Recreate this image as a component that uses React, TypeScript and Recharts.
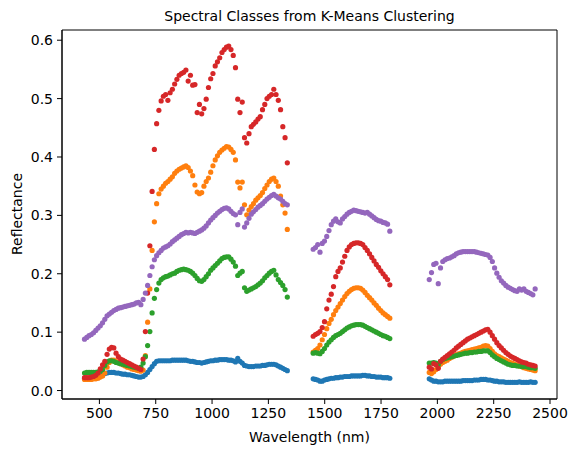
import { ScatterChart, Scatter, XAxis, YAxis, ReferenceArea } from "recharts";

const FONT = '"DejaVu Sans", Verdana, sans-serif';

// Band centres (nm); water-absorption windows are dropped.
const bandsVnir = [
  434, 444, 454, 464, 474, 484, 494, 504, 514, 524,
  534, 544, 554, 564, 574, 584, 594, 604, 614, 624,
  634, 644, 654, 664, 674, 684, 694, 704, 714, 724,
  734, 744, 754, 764, 774, 784, 794, 804, 814, 824,
  834, 844, 854, 864, 874, 884, 894, 904, 914, 924,
  934, 944, 954, 964, 974, 984, 994, 1004, 1014, 1024,
  1034, 1044, 1054, 1064, 1074, 1084, 1094, 1104, 1114, 1124,
  1134, 1144, 1154, 1164, 1174, 1184, 1194, 1204, 1214, 1224,
  1234, 1244, 1254, 1264, 1274, 1284, 1294, 1304, 1314, 1324,
  1334,
];
const bandsSwir1 = [
  1449, 1459, 1469, 1479, 1489, 1499, 1509, 1519, 1529, 1539,
  1549, 1559, 1569, 1579, 1589, 1599, 1609, 1619, 1629, 1639,
  1649, 1659, 1669, 1679, 1689, 1699, 1709, 1719, 1729, 1739,
  1749, 1759, 1769, 1779, 1789,
];
const bandsSwir2 = [
  1964, 1974, 1984, 1994, 2004, 2014, 2024, 2034, 2044, 2054,
  2064, 2074, 2084, 2094, 2104, 2114, 2124, 2134, 2144, 2154,
  2164, 2174, 2184, 2194, 2204, 2214, 2224, 2234, 2244, 2254,
  2264, 2274, 2284, 2294, 2304, 2314, 2324, 2334, 2344, 2354,
  2364, 2374, 2384, 2394, 2404, 2414, 2424, 2434,
];
const wavelengths = [...bandsVnir, ...bandsSwir1, ...bandsSwir2];

// Cluster centroid spectra, one value per band above.
const class0 = [
  0.021, 0.021, 0.021, 0.021, 0.021, 0.021, 0.022, 0.024, 0.026, 0.029,
  0.030, 0.031, 0.031, 0.031, 0.030, 0.030, 0.029, 0.028, 0.028, 0.027,
  0.027, 0.026, 0.025, 0.024, 0.023, 0.023, 0.024, 0.027, 0.031, 0.036,
  0.041, 0.046, 0.050, 0.051, 0.051, 0.051, 0.051, 0.051, 0.051, 0.052,
  0.052, 0.052, 0.052, 0.052, 0.052, 0.052, 0.051, 0.050, 0.050, 0.049,
  0.048, 0.048, 0.047, 0.048, 0.049, 0.050, 0.051, 0.051, 0.052, 0.052,
  0.053, 0.053, 0.053, 0.053, 0.052, 0.052, 0.051, 0.049, 0.055, 0.050,
  0.047, 0.043, 0.042, 0.041, 0.041, 0.041, 0.042, 0.042, 0.042, 0.043,
  0.043, 0.044, 0.045, 0.045, 0.045, 0.044, 0.042, 0.040, 0.038, 0.036,
  0.034,
  0.020, 0.019, 0.018, 0.016, 0.016, 0.018, 0.019, 0.020, 0.021, 0.021,
  0.022, 0.022, 0.023, 0.023, 0.024, 0.024, 0.024, 0.025, 0.025, 0.025,
  0.025, 0.025, 0.026, 0.026, 0.025, 0.025, 0.024, 0.024, 0.023, 0.023,
  0.023, 0.022, 0.022, 0.022, 0.021,
  0.020, 0.018, 0.016, 0.016, 0.015, 0.015, 0.015, 0.016, 0.016, 0.016,
  0.016, 0.016, 0.016, 0.016, 0.016, 0.017, 0.017, 0.017, 0.017, 0.017,
  0.018, 0.018, 0.018, 0.019, 0.019, 0.019, 0.018, 0.018, 0.017, 0.016,
  0.016, 0.015, 0.015, 0.015, 0.014, 0.014, 0.014, 0.014, 0.014, 0.014,
  0.015, 0.014, 0.014, 0.014, 0.014, 0.015, 0.014, 0.014,
];
const class1 = [
  0.019, 0.019, 0.019, 0.019, 0.020, 0.020, 0.021, 0.023, 0.025, 0.030,
  0.040, 0.048, 0.052, 0.052, 0.050, 0.048, 0.046, 0.044, 0.042, 0.040,
  0.039, 0.037, 0.036, 0.035, 0.034, 0.033, 0.035, 0.060, 0.117, 0.174,
  0.240, 0.289, 0.320, 0.337, 0.345, 0.350, 0.355, 0.358, 0.362, 0.366,
  0.372, 0.376, 0.379, 0.381, 0.383, 0.385, 0.382, 0.376, 0.368, 0.352,
  0.340, 0.337, 0.339, 0.350, 0.358, 0.364, 0.374, 0.385, 0.395, 0.402,
  0.408, 0.412, 0.415, 0.418, 0.417, 0.413, 0.408, 0.395, 0.357, 0.347,
  0.357, 0.318, 0.301, 0.309, 0.315, 0.320, 0.326, 0.330, 0.334, 0.339,
  0.346, 0.352, 0.358, 0.362, 0.364, 0.358, 0.350, 0.333, 0.318, 0.304,
  0.276,
  0.066, 0.069, 0.072, 0.078, 0.087, 0.096, 0.106, 0.115, 0.122, 0.130,
  0.137, 0.143, 0.149, 0.155, 0.161, 0.166, 0.170, 0.173, 0.175, 0.176,
  0.176, 0.175, 0.172, 0.168, 0.163, 0.159, 0.155, 0.150, 0.146, 0.141,
  0.137, 0.133, 0.130, 0.127, 0.124,
  0.031, 0.029, 0.032, 0.036, 0.041, 0.045, 0.048, 0.050, 0.052, 0.055,
  0.057, 0.059, 0.061, 0.063, 0.064, 0.066, 0.067, 0.068, 0.069, 0.070,
  0.071, 0.072, 0.073, 0.074, 0.076, 0.077, 0.076, 0.072, 0.067, 0.063,
  0.060, 0.058, 0.056, 0.054, 0.052, 0.050, 0.048, 0.047, 0.045, 0.044,
  0.042, 0.041, 0.039, 0.038, 0.037, 0.036, 0.035, 0.034,
];
const class2 = [
  0.030, 0.031, 0.031, 0.031, 0.031, 0.031, 0.032, 0.033, 0.036, 0.043,
  0.049, 0.051, 0.051, 0.050, 0.048, 0.047, 0.046, 0.045, 0.044, 0.043,
  0.042, 0.041, 0.040, 0.039, 0.038, 0.040, 0.047, 0.058, 0.077, 0.101,
  0.133, 0.158, 0.173, 0.184, 0.190, 0.193, 0.195, 0.196, 0.198, 0.200,
  0.201, 0.204, 0.206, 0.207, 0.208, 0.207, 0.206, 0.204, 0.201, 0.197,
  0.192, 0.188, 0.187, 0.190, 0.195, 0.200, 0.206, 0.210, 0.214, 0.218,
  0.222, 0.226, 0.228, 0.229, 0.229, 0.225, 0.220, 0.213, 0.197, 0.201,
  0.204, 0.176, 0.170, 0.172, 0.174, 0.176, 0.178, 0.181, 0.184, 0.188,
  0.193, 0.197, 0.201, 0.204, 0.206, 0.198, 0.190, 0.185, 0.180, 0.173,
  0.160,
  0.064, 0.065, 0.064, 0.063, 0.067, 0.072, 0.078, 0.083, 0.087, 0.091,
  0.094, 0.096, 0.098, 0.101, 0.104, 0.107, 0.109, 0.111, 0.112, 0.113,
  0.113, 0.113, 0.112, 0.110, 0.108, 0.106, 0.104, 0.102, 0.100, 0.098,
  0.096, 0.094, 0.093, 0.091, 0.089,
  0.047, 0.047, 0.048, 0.047, 0.044, 0.050, 0.053, 0.055, 0.056, 0.057,
  0.058, 0.059, 0.060, 0.061, 0.062, 0.063, 0.064, 0.064, 0.065, 0.065,
  0.066, 0.066, 0.067, 0.067, 0.068, 0.068, 0.068, 0.065, 0.061, 0.058,
  0.055, 0.053, 0.051, 0.049, 0.047, 0.045, 0.044, 0.043, 0.043, 0.042,
  0.042, 0.041, 0.041, 0.041, 0.040, 0.039, 0.039, 0.038,
];
const class3 = [
  0.022, 0.022, 0.022, 0.023, 0.024, 0.026, 0.030, 0.037, 0.044, 0.050,
  0.062, 0.071, 0.074, 0.073, 0.064, 0.058, 0.054, 0.052, 0.050, 0.048,
  0.046, 0.044, 0.042, 0.040, 0.038, 0.036, 0.054, 0.101, 0.167, 0.248,
  0.341, 0.413, 0.457, 0.480, 0.496, 0.504, 0.507, 0.497, 0.510, 0.516,
  0.525, 0.533, 0.540, 0.543, 0.545, 0.549, 0.530, 0.540, 0.523, 0.524,
  0.476, 0.490, 0.474, 0.483, 0.499, 0.519, 0.534, 0.543, 0.556, 0.563,
  0.570, 0.579, 0.584, 0.588, 0.590, 0.584, 0.574, 0.553, 0.499, 0.476,
  0.494, 0.433, 0.424, 0.440, 0.452, 0.456, 0.460, 0.465, 0.469, 0.481,
  0.490, 0.500, 0.504, 0.507, 0.516, 0.507, 0.497, 0.481, 0.452, 0.433,
  0.390,
  0.093, 0.096, 0.098, 0.101, 0.108, 0.118, 0.140, 0.155, 0.165, 0.178,
  0.195, 0.204, 0.210, 0.220, 0.230, 0.240, 0.246, 0.250, 0.252, 0.253,
  0.253, 0.252, 0.250, 0.245, 0.240, 0.234, 0.228, 0.222, 0.216, 0.211,
  0.205, 0.200, 0.195, 0.190, 0.181,
  0.040, 0.037, 0.046, 0.044, 0.038, 0.050, 0.054, 0.057, 0.060, 0.063,
  0.066, 0.069, 0.073, 0.076, 0.079, 0.082, 0.085, 0.088, 0.090, 0.092,
  0.094, 0.096, 0.098, 0.100, 0.102, 0.104, 0.105, 0.100, 0.094, 0.088,
  0.082, 0.077, 0.073, 0.069, 0.065, 0.062, 0.059, 0.057, 0.055, 0.053,
  0.051, 0.049, 0.048, 0.047, 0.045, 0.044, 0.043, 0.042,
];
const class4 = [
  0.088, 0.091, 0.094, 0.096, 0.099, 0.103, 0.107, 0.111, 0.116, 0.122,
  0.128, 0.131, 0.134, 0.137, 0.139, 0.141, 0.142, 0.143, 0.144, 0.145,
  0.146, 0.147, 0.148, 0.150, 0.151, 0.147, 0.156, 0.167, 0.180, 0.197,
  0.212, 0.224, 0.231, 0.236, 0.240, 0.244, 0.246, 0.248, 0.251, 0.255,
  0.258, 0.261, 0.264, 0.267, 0.269, 0.271, 0.270, 0.271, 0.270, 0.269,
  0.271, 0.273, 0.275, 0.278, 0.282, 0.287, 0.292, 0.296, 0.300, 0.304,
  0.307, 0.310, 0.312, 0.313, 0.311, 0.307, 0.303, 0.301, 0.284, 0.305,
  0.311, 0.280, 0.287, 0.295, 0.302, 0.306, 0.310, 0.314, 0.317, 0.320,
  0.324, 0.328, 0.331, 0.334, 0.336, 0.333, 0.330, 0.328, 0.324, 0.320,
  0.318,
  0.242, 0.245, 0.250, 0.237, 0.252, 0.256, 0.264, 0.274, 0.284, 0.290,
  0.294, 0.289, 0.287, 0.294, 0.298, 0.302, 0.305, 0.307, 0.309, 0.308,
  0.307, 0.306, 0.305, 0.304, 0.305, 0.302, 0.299, 0.296, 0.293, 0.291,
  0.290, 0.288, 0.287, 0.285, 0.273,
  0.190, 0.202, 0.216, 0.218, 0.183, 0.210, 0.221, 0.224, 0.226, 0.227,
  0.229, 0.231, 0.234, 0.236, 0.237, 0.238, 0.238, 0.238, 0.238, 0.238,
  0.238, 0.237, 0.236, 0.235, 0.234, 0.233, 0.232, 0.228, 0.221, 0.210,
  0.201, 0.194, 0.188, 0.184, 0.180, 0.177, 0.175, 0.173, 0.171, 0.170,
  0.174, 0.172, 0.174, 0.170, 0.168, 0.166, 0.164, 0.174,
];

const classSpectra = [class0, class1, class2, class3, class4];
const classColors = ["#1f77b4", "#ff7f0e", "#2ca02c", "#d62728", "#9467bd"];

const xTicks = [500, 750, 1000, 1250, 1500, 1750, 2000, 2250, 2500];
const yTicks = [0, 0.1, 0.2, 0.3, 0.4, 0.5, 0.6];
const xDomain: [number, number] = [334, 2531];
const yDomain: [number, number] = [-0.0145, 0.6175];

const toRows = (values: number[]) =>
  wavelengths.map((nm, i) => ({ nm, reflectance: values[i] }));

const dot = (color: string) => (props: any) =>
  <circle cx={props.cx} cy={props.cy} r={2.6} fill={color} />;

const tickStyle = { fill: "#000", fontSize: 14, fontFamily: FONT };

export default function App() {
  return (
    <div
      style={{
        position: "absolute",
        left: 0,
        top: 0,
        width: 578,
        height: 453,
        background: "#fff",
        fontFamily: FONT,
        color: "#000",
      }}
    >
      <div
        style={{
          position: "absolute",
          left: 62,
          width: 495,
          top: 8,
          textAlign: "center",
          fontSize: 14,
          lineHeight: "16px",
        }}
      >
        Spectral Classes from K-Means Clustering
      </div>
      <ScatterChart
        width={578}
        height={453}
        margin={{ top: 30, right: 21, bottom: 0, left: 0 }}
      >
        <XAxis
          type="number"
          dataKey="nm"
          domain={xDomain}
          ticks={xTicks}
          allowDataOverflow
          height={54}
          stroke="#000"
          tickSize={5}
          tickMargin={4}
          tick={tickStyle}
        />
        <YAxis
          type="number"
          dataKey="reflectance"
          domain={yDomain}
          ticks={yTicks}
          allowDataOverflow
          width={62}
          stroke="#000"
          tickSize={5}
          tickMargin={4}
          tick={tickStyle}
          tickFormatter={(v: number) => v.toFixed(1)}
        />
        <ReferenceArea
          x1={xDomain[0]}
          x2={xDomain[1]}
          y1={yDomain[0]}
          y2={yDomain[1]}
          fill="none"
          stroke="#000"
          strokeWidth={1}
        />
        {classSpectra.map((values, k) => (
          <Scatter
            key={k}
            name={`Class ${k}`}
            data={toRows(values)}
            fill={classColors[k]}
            shape={dot(classColors[k])}
            isAnimationActive={false}
          />
        ))}
      </ScatterChart>
      <div
        style={{
          position: "absolute",
          left: 62,
          width: 495,
          top: 429,
          textAlign: "center",
          fontSize: 14,
          lineHeight: "16px",
        }}
      >
        Wavelength (nm)
      </div>
      <div
        style={{
          position: "absolute",
          left: 17,
          top: 214,
          fontSize: 14,
          lineHeight: "16px",
          whiteSpace: "nowrap",
          transform: "translate(-50%, -50%) rotate(-90deg)",
        }}
      >
        Reflectance
      </div>
    </div>
  );
}
